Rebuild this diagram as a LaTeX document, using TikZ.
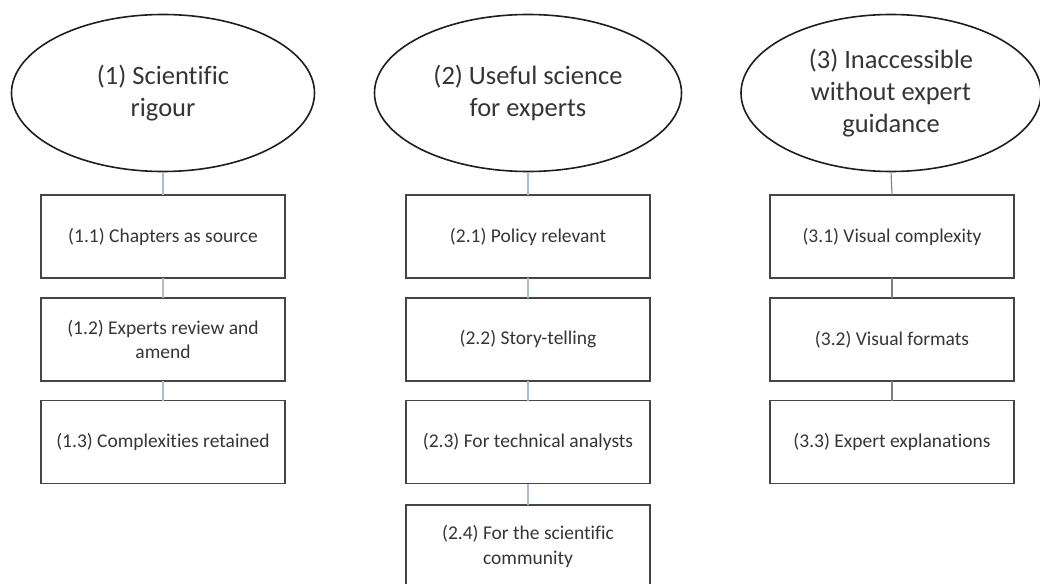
\documentclass[tikz,border=0pt]{standalone}
\usepackage{fontspec}
\setmainfont{Carlito}[Ligatures=NoCommon]
\usetikzlibrary{shapes.geometric}
\definecolor{txt}{HTML}{353535}
\definecolor{boxline}{HTML}{454545}
\definecolor{ellline}{HTML}{1E1E1E}
\definecolor{blueconn}{HTML}{A9BBCF}
\definecolor{grayconn}{HTML}{7F7F7F}
\tikzset{
  head/.style={ellipse, draw=ellline, line width=1.6pt, inner sep=0pt, outer sep=0pt,
    minimum height=157pt, text=txt, align=center,
    font=\fontsize{26.5}{32}\selectfont},
  item/.style={rectangle, draw=boxline, line width=1.4pt, inner sep=0pt, outer sep=0pt,
    minimum width=244pt, minimum height=83pt, text=txt, align=center,
    font=\fontsize{19.5}{24.5}\selectfont},
  connA/.style={draw=blueconn, line width=1.1pt},
  connB/.style={draw=grayconn, line width=1.1pt},
}
\begin{document}
\begin{tikzpicture}[x=1pt,y=1pt]
\useasboundingbox (0,0) rectangle (1040,-583);
\begin{scope}
\clip (0,0) rectangle (1040,-583);
% headers
\node[head, minimum width=303pt] (h1) at (163,-93) {(1) Scientific\\rigour};
\node[head, minimum width=307pt] (h2) at (528,-93) {(2) Useful science\\for experts};
\node[head, minimum width=300pt] (h3) at (891,-93) {(3) Inaccessible\\without expert\\guidance};
% column 1
\node[item] (b11) at (163,-236.5) {(1.1) Chapters as source};
\node[item] (b12) at (163,-339.5) {(1.2) Experts review and\\amend};
\node[item] (b13) at (163,-442) {(1.3) Complexities retained};
% column 2
\node[item] (b21) at (528,-236.5) {(2.1) Policy relevant};
\node[item] (b22) at (528,-339.5) {(2.2) Story-telling};
\node[item] (b23) at (528,-442) {(2.3) For technical analysts};
\node[item] (b24) at (528,-546.5) {(2.4) For the scientific\\community};
% column 3
\node[item] (b31) at (892,-236.5) {(3.1) Visual complexity};
\node[item] (b32) at (892,-339.5) {(3.2) Visual formats};
\node[item] (b33) at (892,-442) {(3.3) Expert explanations};
% connectors
\draw[connA] (h1.south) -- (b11.north);
\draw[connA] (b11.south) -- (b12.north);
\draw[connA] (b12.south) -- (b13.north);
\draw[connA] (h2.south) -- (b21.north);
\draw[connA] (b21.south) -- (b22.north);
\draw[connA] (b22.south) -- (b23.north);
\draw[connA] (b23.south) -- (b24.north);
\draw[connB] (h3.south) -- (b31.north);
\draw[connB] (b31.south) -- (b32.north);
\draw[connB] (b32.south) -- (b33.north);
\end{scope}
\end{tikzpicture}
\end{document}
